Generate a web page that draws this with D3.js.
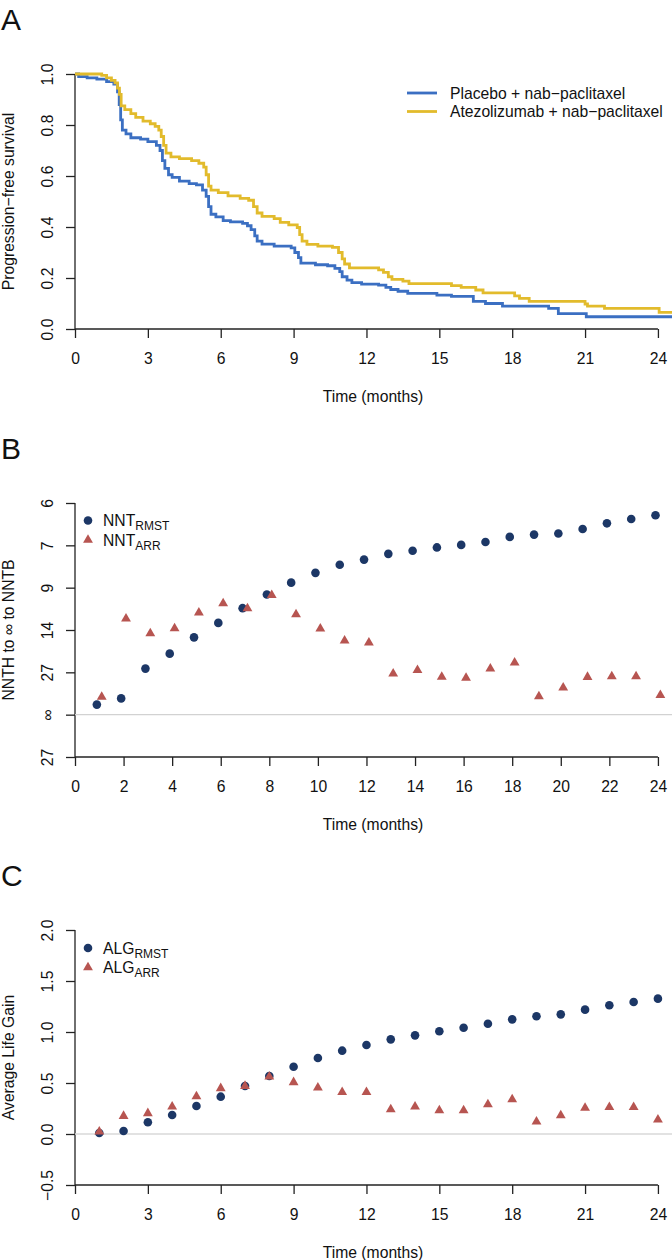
<!DOCTYPE html>
<html>
<head>
<meta charset="utf-8">
<script src="https://cdn.jsdelivr.net/npm/d3@7"></script>
<style>
  body { margin: 0; background: #fff; }
  text { font-family: "Liberation Sans", Arial, Helvetica, sans-serif; fill: #111; }
</style>
</head>
<body>
<svg id="chart" width="672" height="1260"></svg>
<script>
// ---- panel A: Kaplan-Meier progression-free survival (step change points) ----
const placeboTimes = [0, 0.15, 0.5, 0.9, 1.3, 1.6, 1.75, 1.82, 1.88, 1.95, 2.1, 2.3, 2.7, 3.0, 3.35, 3.5, 3.6, 3.7, 3.85, 4.0, 4.3, 4.7, 5.0, 5.25, 5.4, 5.5, 5.6, 5.8, 6.1, 6.4, 6.9, 7.1, 7.25, 7.4, 7.5, 7.7, 8.2, 8.9, 9.05, 9.2, 9.3, 9.9, 10.4, 10.7, 10.9, 11.0, 11.2, 11.4, 11.8, 12.5, 12.8, 13.0, 13.3, 13.7, 14.9, 15.5, 16.4, 16.9, 17.6, 19.5, 19.9, 21.05];
const placeboSurv  = [1, 0.99, 0.985, 0.98, 0.97, 0.96, 0.93, 0.88, 0.82, 0.78, 0.765, 0.75, 0.745, 0.735, 0.72, 0.70, 0.66, 0.63, 0.605, 0.595, 0.58, 0.57, 0.565, 0.545, 0.52, 0.48, 0.45, 0.44, 0.425, 0.42, 0.414, 0.405, 0.39, 0.365, 0.345, 0.333, 0.325, 0.318, 0.30, 0.28, 0.258, 0.252, 0.248, 0.238, 0.225, 0.205, 0.192, 0.182, 0.176, 0.172, 0.163, 0.155, 0.148, 0.14, 0.133, 0.128, 0.108, 0.10, 0.09, 0.081, 0.06, 0.048];
const atezoTimes = [0, 1.1, 1.3, 1.5, 1.65, 1.75, 1.83, 1.9, 2.05, 2.3, 2.5, 2.8, 3.1, 3.3, 3.45, 3.55, 3.65, 3.75, 3.95, 4.3, 4.8, 5.1, 5.3, 5.4, 5.5, 5.6, 5.9, 6.3, 6.8, 7.15, 7.35, 7.5, 7.7, 8.2, 8.45, 8.8, 9.15, 9.25, 9.35, 9.55, 10.0, 10.6, 10.85, 11.0, 11.1, 11.3, 12.5, 12.7, 12.9, 13.05, 13.5, 13.75, 15.5, 15.9, 16.5, 16.8, 18.1, 18.3, 18.7, 21.0, 21.1, 21.8, 24.05];
const atezoSurv  = [1, 0.995, 0.985, 0.975, 0.965, 0.945, 0.92, 0.875, 0.86, 0.845, 0.83, 0.815, 0.805, 0.795, 0.78, 0.755, 0.72, 0.69, 0.675, 0.668, 0.66, 0.65, 0.635, 0.605, 0.56, 0.545, 0.535, 0.522, 0.512, 0.505, 0.48, 0.455, 0.442, 0.433, 0.418, 0.408, 0.398, 0.37, 0.345, 0.332, 0.325, 0.32, 0.30, 0.275, 0.255, 0.24, 0.232, 0.222, 0.205, 0.195, 0.188, 0.178, 0.17, 0.163, 0.153, 0.142, 0.13, 0.12, 0.108, 0.098, 0.09, 0.081, 0.065];
const kmEnd = 24.6;
const armNames = ["Placebo + nab\u2212paclitaxel", "Atezolizumab + nab\u2212paclitaxel"];
const armColors = ["#3b6fc2", "#e2bb2c"];

// ---- panels B and C: month-by-month estimates ----
const months = [1, 2, 3, 4, 5, 6, 7, 8, 9, 10, 11, 12, 13, 14, 15, 16, 17, 18, 19, 20, 21, 22, 23, 24];
const nntRmst = [112.4, 69.4, 24.5, 18.5, 14.6, 12.3, 10.6, 9.39, 8.55, 7.96, 7.53, 7.28, 7.02, 6.89, 6.75, 6.65, 6.54, 6.35, 6.27, 6.23, 6.08, 5.9, 5.77, 5.66];
const nntArr  = [63.3, 11.75, 13.9, 13.1, 11.06, 10.14, 10.63, 9.45, 11.25, 13.14, 15.24, 15.67, 27.5, 25.4, 29.96, 30.7, 24.5, 21.7, 62.0, 41.7, 30.0, 29.6, 29.6, 57.8];
const algRmst = [0.01, 0.03, 0.115, 0.186, 0.275, 0.366, 0.47, 0.569, 0.66, 0.745, 0.817, 0.873, 0.928, 0.967, 1.007, 1.042, 1.081, 1.124, 1.154, 1.173, 1.219, 1.262, 1.294, 1.327];
const algArr  = [0.023, 0.176, 0.203, 0.268, 0.369, 0.448, 0.47, 0.562, 0.507, 0.454, 0.409, 0.409, 0.242, 0.268, 0.232, 0.232, 0.291, 0.34, 0.121, 0.183, 0.255, 0.262, 0.262, 0.14];

// tick values / labels
const ticksA = [0, 3, 6, 9, 12, 15, 18, 21, 24];
const ticksB = [0, 2, 4, 6, 8, 10, 12, 14, 16, 18, 20, 22, 24];
const yTicksA = [0, 0.2, 0.4, 0.6, 0.8, 1.0];
const yTicksB = [-0.0375, 0, 0.0375, 0.075, 0.1125, 0.15, 0.1875];  // 1/NNT
const yLabelsB = ["27", "\u221e", "27", "14", "9", "7", "6"];
const yTicksC = [-0.5, 0, 0.5, 1.0, 1.5, 2.0];

const navy = "#1c3766", brick = "#b75551", axisCol = "#222";
const fs = "15.7px";

const svg = d3.select("#chart");

const x = d3.scaleLinear().domain([0, kmEnd]).range([75, 672.5]);
const yA = d3.scaleLinear().domain([0, 1]).range([329, 74]);
const yB = d3.scaleLinear().domain([-0.0375, 0.1875]).range([757, 503]);
const yC = d3.scaleLinear().domain([-0.5, 2]).range([1185, 930]);

function drawAxes(y, xTicks, yTicks, yFmt, yTitle, letter) {
    const base = y.range()[0];
    const top = y.range()[1];

    const gx = svg.append("g").attr("transform", "translate(0," + base + ")")
        .call(d3.axisBottom(x).tickValues(xTicks).tickSize(9).tickSizeOuter(0));
    gx.select(".domain").remove();
    gx.append("line")
        .attr("x1", x(xTicks[0])).attr("x2", x(xTicks[xTicks.length - 1]))
        .attr("stroke", axisCol).attr("stroke-width", 1.3);
    gx.selectAll(".tick line").attr("stroke", axisCol).attr("stroke-width", 1.3);
    gx.selectAll(".tick text").attr("y", 35).attr("dy", null)
        .style("font-size", fs).attr("fill", "#111");

    const gy = svg.append("g").attr("transform", "translate(75,0)")
        .call(d3.axisLeft(y).tickValues(yTicks).tickFormat(yFmt).tickSize(9).tickSizeOuter(0));
    gy.select(".domain").remove();
    gy.append("line")
        .attr("y1", y(yTicks[0])).attr("y2", y(yTicks[yTicks.length - 1]))
        .attr("stroke", axisCol).attr("stroke-width", 1.3);
    gy.selectAll(".tick line").attr("stroke", axisCol).attr("stroke-width", 1.3);
    gy.selectAll(".tick text")
        .attr("x", null).attr("dy", null)
        .attr("transform", "translate(-22,0) rotate(-90)")
        .attr("text-anchor", "middle")
        .style("font-size", fs).attr("fill", "#111");

    svg.append("text")
        .attr("x", 373).attr("y", base + 73)
        .attr("text-anchor", "middle").style("font-size", fs)
        .text("Time (months)");

    svg.append("text")
        .attr("transform", "translate(14," + ((base + top) / 2) + ") rotate(-90)")
        .attr("text-anchor", "middle").style("font-size", fs)
        .text(yTitle);

    svg.append("text")
        .attr("x", 1).attr("y", top - 44)
        .style("font-size", "30px")
        .text(letter);
}

// ===== Panel A =====
drawAxes(yA, ticksA, yTicksA, d3.format(".1f"), "Progression\u2212free survival", "A");

svg.append("defs").append("clipPath").attr("id", "clipA")
    .append("rect").attr("x", 70).attr("y", 60).attr("width", 602).attr("height", 280);

const step = d3.line().curve(d3.curveStepAfter)
    .x(d => x(d[0])).y(d => yA(d[1]));

const arms = [
    d3.zip(placeboTimes, placeboSurv).concat([[kmEnd, placeboSurv[placeboSurv.length - 1]]]),
    d3.zip(atezoTimes, atezoSurv).concat([[kmEnd, atezoSurv[atezoSurv.length - 1]]])
];

svg.append("g").attr("clip-path", "url(#clipA)")
    .selectAll("path.km")
    .data(arms)
    .enter()
    .append("path")
    .attr("class", "km")
    .attr("d", step)
    .attr("fill", "none")
    .attr("stroke", (d, i) => armColors[i])
    .attr("stroke-width", 2.8);

const legA = svg.append("g");
armNames.forEach((name, i) => {
    const ly = 93 + i * 18.5;
    legA.append("line").attr("x1", 407).attr("x2", 437).attr("y1", ly).attr("y2", ly)
        .attr("stroke", armColors[i]).attr("stroke-width", 2.8);
    legA.append("text").attr("x", 450).attr("y", ly + 5.5)
        .style("font-size", fs).text(name);
});

// ===== Panel B =====
drawAxes(yB, ticksB, yTicksB, (d, i) => yLabelsB[i], "NNTH to \u221e to NNTB", "B");

svg.append("line")
    .attr("x1", x(0)).attr("x2", 672).attr("y1", yB(0)).attr("y2", yB(0))
    .attr("stroke", "#d2d2d2").attr("stroke-width", 1.3);

const tri = d3.symbol().type(d3.symbolTriangle).size(42);

svg.selectAll("circle.nntRmst")
    .data(months)
    .enter()
    .append("circle")
    .attr("class", "nntRmst")
    .attr("cx", (d) => x(d - 0.1))
    .attr("cy", (d, i) => yB(1 / nntRmst[i]))
    .attr("r", 4.3)
    .style("fill", navy);

svg.selectAll("path.nntArr")
    .data(months)
    .enter()
    .append("path")
    .attr("class", "nntArr")
    .attr("d", tri)
    .attr("transform", (d, i) => "translate(" + x(d + 0.1) + "," + yB(1 / nntArr[i]) + ")")
    .style("fill", brick);

// ===== Panel C =====
drawAxes(yC, ticksA, yTicksC, d3.format(".1f"), "Average Life Gain", "C");

svg.append("line")
    .attr("x1", x(0)).attr("x2", 672).attr("y1", yC(0)).attr("y2", yC(0))
    .attr("stroke", "#d9d9d9").attr("stroke-width", 1.3);

svg.selectAll("circle.algRmst")
    .data(months)
    .enter()
    .append("circle")
    .attr("class", "algRmst")
    .attr("cx", (d) => x(d))
    .attr("cy", (d, i) => yC(algRmst[i]))
    .attr("r", 4.3)
    .style("fill", navy);

svg.selectAll("path.algArr")
    .data(months)
    .enter()
    .append("path")
    .attr("class", "algArr")
    .attr("d", tri)
    .attr("transform", (d, i) => "translate(" + x(d) + "," + yC(algArr[i]) + ")")
    .style("fill", brick);

// legends for B and C
function pointLegend(y0, main) {
    const g = svg.append("g");
    g.append("circle").attr("cx", 88).attr("cy", y0).attr("r", 4.3).style("fill", navy);
    g.append("path").attr("d", tri).attr("transform", "translate(88," + (y0 + 19.5) + ")").style("fill", brick);
    ["RMST", "ARR"].forEach((sub, i) => {
        const t = g.append("text").attr("x", 103).attr("y", y0 + 5.5 + i * 19.5).style("font-size", fs);
        t.append("tspan").text(main);
        t.append("tspan").attr("dy", 4).style("font-size", "12px").text(sub);
    });
}
pointLegend(520.5, "NNT");
pointLegend(948, "ALG");
</script>
</body>
</html>
